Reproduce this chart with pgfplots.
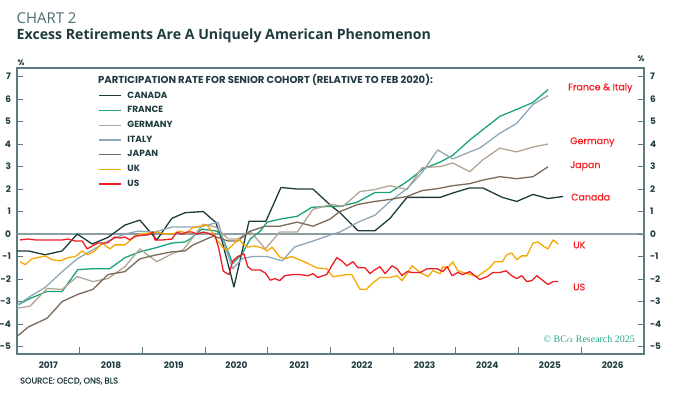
\documentclass[border=0pt]{standalone}
\usepackage{pgfplots}
\pgfplotsset{compat=1.18}
\usepackage{fontspec}
\setmainfont{Open Sans}
\newfontfamily\pop{Poppins}
\newfontfamily\popm[FakeBold=0.6]{Poppins}
\newfontfamily\serifw{Liberation Serif}
\definecolor{canadac}{HTML}{1D3B3A}
\definecolor{francec}{HTML}{1AA37A}
\definecolor{germanyc}{HTML}{B3A594}
\definecolor{italyc}{HTML}{8EA7B9}
\definecolor{japanc}{HTML}{7B6A57}
\definecolor{ukc}{HTML}{F7A800}
\definecolor{usc}{HTML}{EE1D23}
\definecolor{axisc}{HTML}{5D7A7F}
\definecolor{zeroc}{HTML}{8C9EA3}
\definecolor{textdark}{HTML}{1F3B40}
\definecolor{chartgray}{HTML}{4D6B6E}
\definecolor{wmark}{HTML}{26A88A}
\definecolor{labred}{HTML}{F41E24}
\begin{document}
\begin{tikzpicture}
\path[use as bounding box] (0,0) rectangle (675bp,394bp);
\begin{axis}[
  at={(17bp,40bp)}, anchor=south west,
  scale only axis, width=627bp, height=286bp,
  xmin=2017, xmax=2027, ymin=-5.33, ymax=7.38,
  axis line style={draw=axisc, line width=1.1bp},
  xtick={2017.5,2018.5,2019.5,2020.5,2021.5,2022.5,2023.5,2024.5,2025.5,2026.5},
  xticklabels={2017,2018,2019,2020,2021,2022,2023,2024,2025,2026},
  minor xtick={2018,2019,2020,2021,2022,2023,2024,2025,2026},
  every major x tick/.append style={draw=none},
  minor tick length=7bp,
  major tick length=6bp,
  xtick pos=bottom,
  ytick={-5,-4,...,7},
  ytick pos=left,
  tick style={draw=axisc, line width=1.1bp},
  ticklabel style={font=\pop\bfseries\fontsize{9}{10}\selectfont, text=textdark},
  /pgf/number format/assume math mode=true,
  yticklabel style={xshift=-2.5bp},
  xticklabel style={yshift=-4bp},
  legend style={at={(axis description cs:0.1292,0.9245)}, anchor=north west,
    draw=none, fill=none, font=\pop\bfseries\fontsize{9}{10}\selectfont,
    text=textdark, row sep=2.9bp, column sep=4bp, inner sep=0pt},
  legend cell align=left,
  legend image code/.code={\draw[#1] (0bp,0bp) -- (22bp,0bp);},
  every axis plot/.append style={line width=1.3bp, line join=round},
]
\addplot[zeroc, line width=1.5bp, forget plot] coordinates {(2017,0) (2027,0)};

\addplot[canadac] coordinates {
(2017.00,-0.75) (2017.18,-0.75) (2017.45,-0.92) (2017.72,-0.75) (2017.96,0.0)
(2018.20,-0.44) (2018.45,-0.15) (2018.72,0.4) (2018.96,0.62) (2019.23,-0.26)
(2019.47,0.7) (2019.68,0.95) (2019.97,1.0) (2020.17,0.52) (2020.27,-0.3)
(2020.46,-2.35) (2020.70,0.57) (2020.97,0.57) (2021.21,2.07) (2021.48,2.0)
(2021.72,2.0) (2022.02,1.23) (2022.15,0.95) (2022.44,0.15) (2022.71,0.15)
(2022.95,0.7) (2023.22,1.63) (2023.75,1.63) (2023.98,1.85) (2024.22,2.05)
(2024.43,2.05) (2024.74,1.63) (2024.97,1.45) (2025.23,1.76) (2025.47,1.58)
(2025.71,1.67)};
\addlegendentry{CANADA}

\addplot[francec] coordinates {
(2017.00,-3.17) (2017.21,-2.86) (2017.48,-2.55) (2017.72,-2.55) (2017.97,-1.58)
(2018.21,-1.54) (2018.48,-1.54) (2018.72,-1.05) (2018.96,-0.79) (2019.20,-0.62)
(2019.47,-0.4) (2019.68,-0.35) (2019.76,-0.22) (2019.95,0.22) (2020.19,0.13)
(2020.27,-0.1) (2020.44,-1.3) (2020.59,-0.88) (2020.72,-0.22) (2020.88,0.13)
(2020.99,0.53) (2021.19,0.66) (2021.47,0.79) (2021.70,1.19) (2021.99,1.23)
(2022.15,1.23) (2022.42,1.41) (2022.71,1.85) (2022.95,1.85) (2023.22,2.33)
(2023.48,2.9) (2023.75,3.2) (2023.95,3.5) (2024.22,4.18) (2024.38,4.53)
(2024.70,5.23) (2024.97,5.54) (2025.23,5.85) (2025.47,6.42)};
\addlegendentry{FRANCE}

\addplot[germanyc] coordinates {
(2017.00,-3.3) (2017.21,-3.2) (2017.48,-2.42) (2017.72,-2.46) (2017.96,-1.89)
(2018.21,-2.11) (2018.45,-1.98) (2018.72,-1.45) (2018.96,-0.66) (2019.23,-1.23)
(2019.47,-0.88) (2019.65,-0.7) (2019.97,0.44) (2020.17,0.31) (2020.37,-0.22)
(2020.52,-0.22) (2020.72,0.13) (2020.96,-0.66) (2021.19,0.09) (2021.47,0.09)
(2021.72,1.1) (2022.02,1.32) (2022.20,1.23) (2022.47,1.89) (2022.71,1.98)
(2022.95,2.15) (2023.22,1.98) (2023.46,2.95) (2023.75,3.0) (2023.95,3.16)
(2024.22,2.77) (2024.43,3.3) (2024.70,3.82) (2024.97,3.65) (2025.23,3.87)
(2025.47,4.0)};
\addlegendentry{GERMANY}

\addplot[italyc] coordinates {
(2017.00,-3.17) (2017.21,-2.77) (2017.45,-2.37) (2017.72,-1.67) (2017.96,-1.1)
(2018.21,-0.7) (2018.45,-0.31) (2018.72,0.0) (2018.93,0.13) (2019.20,0.09)
(2019.47,0.31) (2019.68,0.31) (2019.92,0.31) (2020.21,0.53) (2020.29,-0.3)
(2020.44,-1.54) (2020.59,-1.1) (2020.75,-1.0) (2020.99,-1.0) (2021.23,-1.19)
(2021.43,-0.57) (2021.72,-0.31) (2022.04,0.0) (2022.15,0.09) (2022.44,0.53)
(2022.71,0.84) (2022.95,1.45) (2023.22,2.02) (2023.46,2.73) (2023.71,3.74)
(2023.95,3.34) (2024.22,3.65) (2024.38,3.82) (2024.70,4.48) (2024.97,4.92)
(2025.23,5.76) (2025.47,6.15)};
\addlegendentry{ITALY}

\addplot[japanc] coordinates {
(2017.00,-4.55) (2017.18,-4.13) (2017.48,-3.74) (2017.72,-3.0) (2017.97,-2.68)
(2018.21,-2.46) (2018.45,-1.8) (2018.72,-1.67) (2018.96,-1.1) (2019.23,-0.92)
(2019.47,-0.79) (2019.68,-0.75) (2019.81,-0.48) (2020.13,-0.09) (2020.37,-0.31)
(2020.52,-0.31) (2020.72,0.13) (2020.96,0.35) (2021.19,0.35) (2021.47,0.53)
(2021.72,0.35) (2021.99,0.66) (2022.15,1.0) (2022.44,1.32) (2022.71,1.45)
(2022.95,1.54) (2023.22,1.67) (2023.46,1.93) (2023.71,2.02) (2023.95,2.15)
(2024.22,2.24) (2024.43,2.4) (2024.70,2.55) (2024.97,2.46) (2025.23,2.55)
(2025.47,2.99)};
\addlegendentry{JAPAN}

\addplot[ukc] coordinates {
(2017.05,-1.23) (2017.13,-1.36) (2017.24,-1.1) (2017.45,-0.97) (2017.56,-1.14)
(2017.69,-1.19) (2017.81,-1.05) (2017.93,-1.0) (2018.04,-0.75) (2018.13,-0.92)
(2018.24,-0.75) (2018.36,-0.4) (2018.48,-0.66) (2018.56,-0.48) (2018.72,-0.48)
(2018.83,-0.22) (2018.96,0.0) (2019.23,0.09) (2019.36,0.0) (2019.55,0.04)
(2019.60,0.13) (2019.71,0.04) (2019.79,0.27) (2019.92,0.35) (2020.03,0.4)
(2020.11,0.09) (2020.19,-0.27) (2020.29,-0.62) (2020.35,-0.71) (2020.44,-0.49)
(2020.54,-0.22) (2020.60,-0.44) (2020.68,-0.58) (2020.80,-0.53) (2020.91,-0.62)
(2020.99,-0.75) (2021.07,-0.58) (2021.19,-1.02) (2021.27,-1.1) (2021.38,-1.0)
(2021.59,-1.24) (2021.78,-1.5) (2021.94,-1.55) (2022.04,-1.9) (2022.26,-1.8)
(2022.34,-1.8) (2022.47,-2.45) (2022.57,-2.47) (2022.66,-2.2) (2022.79,-1.93)
(2022.95,-1.93) (2023.06,-1.85) (2023.14,-2.07) (2023.22,-1.76) (2023.30,-1.41)
(2023.43,-1.71) (2023.56,-1.89) (2023.63,-1.63) (2023.75,-1.76) (2023.79,-1.45)
(2023.87,-1.5) (2023.95,-1.23) (2024.03,-1.63) (2024.18,-1.76) (2024.34,-1.89)
(2024.43,-1.71) (2024.54,-1.5) (2024.62,-1.23) (2024.74,-1.23) (2024.81,-0.92)
(2024.89,-0.84) (2024.97,-1.14) (2025.05,-0.97) (2025.13,-0.97) (2025.23,-0.4)
(2025.31,-0.35) (2025.39,-0.53) (2025.47,-0.66) (2025.55,-0.26) (2025.63,-0.44)};
\addlegendentry{UK}

\addplot[usc] coordinates {
(2017.05,-0.26) (2017.18,-0.22) (2017.29,-0.26) (2017.61,-0.26) (2017.73,-0.26)
(2017.81,-0.22) (2017.93,-0.31) (2018.04,-0.31) (2018.12,-0.66) (2018.20,-0.53)
(2018.29,-0.4) (2018.44,-0.4) (2018.56,-0.13) (2018.64,-0.18) (2018.72,-0.13)
(2018.80,-0.26) (2018.88,-0.09) (2019.09,-0.04) (2019.17,0.09) (2019.20,-0.26)
(2019.33,-0.26) (2019.47,-0.22) (2019.55,0.09) (2019.63,0.0) (2019.71,0.09)
(2019.79,0.09) (2019.87,0.0) (2019.97,0.09) (2020.05,0.04) (2020.16,-0.09)
(2020.22,-0.66) (2020.29,-1.65) (2020.38,-1.8) (2020.44,-1.2) (2020.52,-1.0)
(2020.62,-0.88) (2020.68,-1.45) (2020.75,-1.6) (2020.88,-1.6) (2020.96,-1.73)
(2021.04,-2.05) (2021.11,-1.98) (2021.19,-2.07) (2021.27,-1.85) (2021.40,-1.8)
(2021.51,-1.8) (2021.64,-1.85) (2021.72,-1.76) (2021.80,-1.93) (2021.94,-1.8)
(2022.02,-1.41) (2022.10,-1.05) (2022.18,-1.19) (2022.26,-1.41) (2022.36,-1.23)
(2022.44,-1.5) (2022.55,-1.5) (2022.63,-1.76) (2022.71,-1.58) (2022.79,-1.45)
(2022.87,-1.76) (2022.98,-1.41) (2023.06,-1.54) (2023.14,-1.85) (2023.22,-1.67)
(2023.32,-1.71) (2023.43,-1.71) (2023.54,-1.54) (2023.70,-1.54) (2023.79,-1.67)
(2023.86,-1.45) (2023.94,-1.85) (2024.03,-1.71) (2024.11,-1.8) (2024.22,-1.67)
(2024.38,-2.02) (2024.50,-1.89) (2024.59,-1.71) (2024.70,-1.71) (2024.80,-1.63)
(2024.89,-1.85) (2024.97,-1.98) (2025.05,-1.85) (2025.13,-2.11) (2025.21,-2.07)
(2025.29,-1.85) (2025.39,-2.07) (2025.47,-2.24) (2025.55,-2.11) (2025.63,-2.11)};
\addlegendentry{US}
\end{axis}
\begin{axis}[
  at={(17bp,40bp)}, anchor=south west,
  scale only axis, width=627bp, height=286bp,
  xmin=2017, xmax=2027, ymin=-5.33, ymax=7.38,
  hide x axis, axis y line*=right, axis line style={draw=none},
  ytick={-5,-4,...,7}, major tick length=6bp,
  tick style={draw=axisc, line width=1.1bp},
  ticklabel style={font=\pop\bfseries\fontsize{9}{10}\selectfont, text=textdark},
  /pgf/number format/assume math mode=true,
  yticklabel style={xshift=2.5bp},
]
\addplot[draw=none, forget plot] coordinates {(2017,0) (2027,0)};
\end{axis}
% texts
\node[anchor=base west, inner sep=0pt, text=chartgray, font=\fontsize{15}{16}\selectfont] at (16.5bp,370.7bp) {CHART 2};
\node[anchor=base west, inner sep=0pt, text=textdark, font=\bfseries\fontsize{14.2}{16}\selectfont] at (16.5bp,354.7bp) {Excess Retirements Are A Uniquely American Phenomenon};
\node[inner sep=0pt, text=textdark, font=\pop\bfseries\fontsize{8}{8}\selectfont] at (21bp,331bp) {\%};
\node[inner sep=0pt, text=textdark, font=\pop\bfseries\fontsize{8}{8}\selectfont] at (641bp,335bp) {\%};
\node[anchor=base west, inner sep=0pt, text=textdark, font=\pop\bfseries\fontsize{10.1}{11}\selectfont] at (98bp,310.8bp) {PARTICIPATION RATE FOR SENIOR COHORT (RELATIVE TO FEB 2020):};
\begin{scope}[every node/.style={anchor=west, inner sep=0pt, text=labred, font=\popm\fontsize{9.5}{10}\selectfont}]
\node at (568bp,306bp) {France \& Italy};
\node at (570bp,252bp) {Germany};
\node at (570bp,228bp) {Japan};
\node at (571bp,197bp) {Canada};
\node at (573bp,149bp) {UK};
\node at (573bp,107bp) {US};
\end{scope}
\node[anchor=base east, inner sep=0pt, text=wmark, font=\serifw\fontsize{10}{11}\selectfont] at (635bp,51bp) {\textcopyright\ BC$\alpha$ Research 2025};
\node[anchor=base west, inner sep=0pt, text=textdark, font=\popm\fontsize{8.3}{9}\selectfont] at (20bp,10.5bp) {SOURCE: OECD, ONS, BLS};
\end{tikzpicture}
\end{document}
